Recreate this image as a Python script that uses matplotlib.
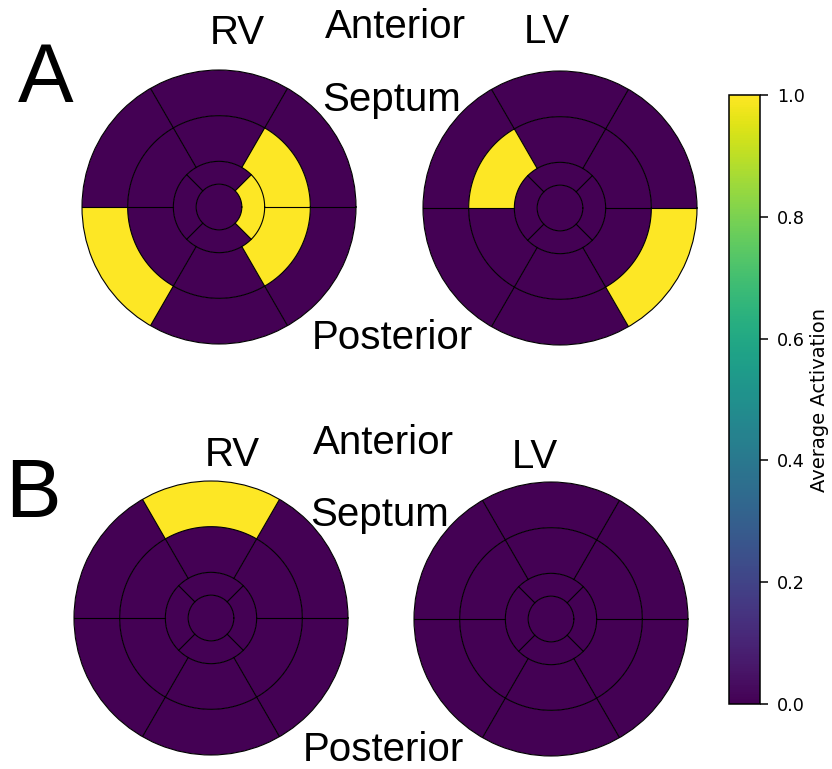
import numpy as np
import matplotlib
matplotlib.use('Agg')
import matplotlib.pyplot as plt
from matplotlib.colors import Normalize
from matplotlib.cm import ScalarMappable

#Segment values, each ring listed counter-clockwise from the 3 o'clock position
#basal/mid rings: 6 segments of 60 deg starting at 0 deg
#apical ring: 4 segments of 90 deg starting at -45 deg
a_rv_basal = [0, 0, 0, 1, 0, 0]
a_rv_mid = [1, 0, 0, 0, 0, 1]
a_rv_apical = [1, 0, 0, 0]
a_rv_apex = [0]

a_lv_basal = [0, 0, 0, 0, 0, 1]
a_lv_mid = [0, 0, 1, 0, 0, 0]
a_lv_apical = [0, 0, 0, 0]
a_lv_apex = [0]

b_rv_basal = [0, 1, 0, 0, 0, 0]
b_rv_mid = [0, 0, 0, 0, 0, 0]
b_rv_apical = [0, 0, 0, 0]
b_rv_apex = [0]

b_lv_basal = [0, 0, 0, 0, 0, 0]
b_lv_mid = [0, 0, 0, 0, 0, 0]
b_lv_apical = [0, 0, 0, 0]
b_lv_apex = [0]

radii = [0, 1/6, 1/3, 2/3, 1]

W, H = 832, 769
cmap = plt.get_cmap('viridis')
norm = Normalize(vmin=0, vmax=1)


def bullseye(ax, basal, mid, apical, apex):
    rings = [(basal, radii[3], radii[4], 0.0),
             (mid, radii[2], radii[3], 0.0),
             (apical, radii[1], radii[2], -np.pi / 4),
             (apex, radii[0], radii[1], 0.0)]
    for vals, r0, r1, start in rings:
        n = len(vals)
        w = 2 * np.pi / n
        theta = start + w * (np.arange(n) + 0.5)
        ax.bar(theta, r1 - r0, width=w, bottom=r0, align='center',
               color=[cmap(norm(v)) for v in vals], linewidth=0, antialiased=True)
    #segment borders
    t = np.linspace(0, 2 * np.pi, 400)
    for r in radii[1:4]:
        ax.plot(t, np.full_like(t, r), color='k', lw=0.8)
    for a in np.deg2rad(np.arange(0, 360, 60)):
        ax.plot([a, a], [radii[2], radii[4]], color='k', lw=0.8)
    for a in np.deg2rad(np.arange(45, 360, 90)):
        ax.plot([a, a], [radii[1], radii[2]], color='k', lw=0.8)
    ax.set_ylim(0, 1)
    ax.set_xticks([])
    ax.set_yticks([])
    ax.grid(False)
    ax.spines['polar'].set_linewidth(0.8)


def pax(fig, cx, cy, r):
    return fig.add_axes([(cx - r) / W, 1 - (cy + r) / H, 2 * r / W, 2 * r / H], projection='polar')


fig = plt.figure(figsize=(W / 100, H / 100), dpi=100)

bullseye(pax(fig, 219, 207, 137), a_rv_basal, a_rv_mid, a_rv_apical, a_rv_apex)
bullseye(pax(fig, 560, 208, 137), a_lv_basal, a_lv_mid, a_lv_apical, a_lv_apex)
bullseye(pax(fig, 211, 618, 137), b_rv_basal, b_rv_mid, b_rv_apical, b_rv_apex)
bullseye(pax(fig, 551, 619, 137), b_lv_basal, b_lv_mid, b_lv_apical, b_lv_apex)

#Labels
lab = dict(family='Liberation Sans', ha='center', va='center')
def txt(x, y, s, size):
    fig.text(x / W, 1 - y / H, s, fontsize=size, **lab)

txt(46, 80, 'A', 60)
txt(237, 33, 'RV', 29)
txt(395, 27, 'Anterior', 29)
txt(392, 100, 'Septum', 29)
txt(392, 338, 'Posterior', 29)
txt(547, 32, 'LV', 29)

txt(33, 495, 'B', 60)
txt(232, 455, 'RV', 29)
txt(383, 443, 'Anterior', 29)
txt(380, 515, 'Septum', 29)
txt(383, 750, 'Posterior', 29)
txt(535, 457, 'LV', 29)

#Colorbar
cax = fig.add_axes([729 / W, 1 - 704 / H, 31 / W, 609 / H])
sm = ScalarMappable(norm=norm, cmap=cmap)
cb = fig.colorbar(sm, cax=cax)
cb.set_label('Average Activation', fontsize=14, labelpad=4)
cb.ax.tick_params(labelsize=12.7, length=6, width=1.1, pad=6)
cb.outline.set_linewidth(1.1)

plt.savefig('out.png', dpi=100)
